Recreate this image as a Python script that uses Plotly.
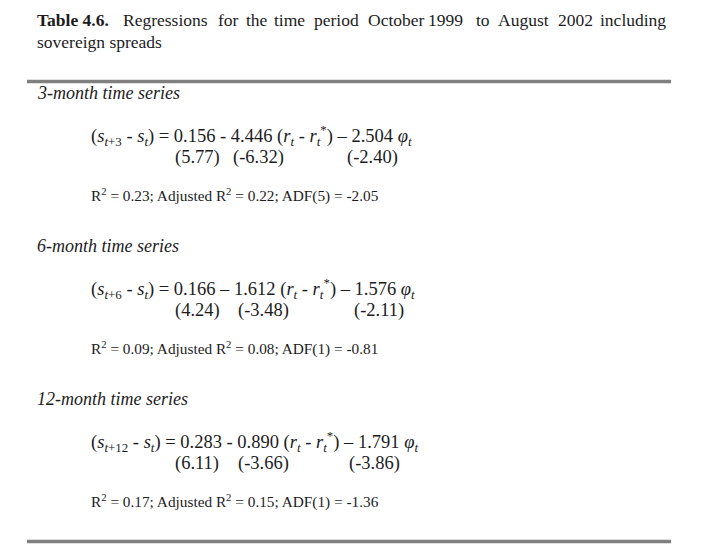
import plotly.graph_objects as go

# table values
horizons = [3, 6, 12]
const = ["0.156", "0.166", "0.283"]
beta = ["4.446", "1.612", "0.890"]
gamma = ["2.504", "1.576", "1.791"]
op_beta = ["-", "–", "-"]
t_const = ["(5.77)", "(4.24)", "(6.11)"]
t_beta = ["(-6.32)", "(-3.48)", "(-3.66)"]
t_gamma = ["(-2.40)", "(-2.11)", "(-3.86)"]
r2 = ["0.23", "0.09", "0.17"]
adj_r2 = ["0.22", "0.08", "0.15"]
adf_lag = [5, 1, 1]
adf = ["-2.05", "-0.81", "-1.36"]

# caption, first line is justified so words are placed one by one
title_words = ["<b>Table 4.6.</b>", "Regressions", "for", "the", "time", "period",
               "October", "1999", "to", "August", "2002", "including"]
title_x = [36, 122, 217, 245, 273, 313, 367, 427, 475, 497, 557, 599]
title_2 = "sovereign spreads"

FONT = "Liberation Serif"
INK = "#1c1c1c"
RULE = "#808080"

# page body has an 8px margin, so the figure starts at (8, 8)
OFF = 8
W, H = 704, 553

fig = go.Figure()

ann = []


def text(x, y, s, size, italic=False):
    if italic:
        s = "<i>" + s + "</i>"
    ann.append(dict(x=x, y=y, xref="x", yref="y", text=s, showarrow=False,
                    xanchor="left", yanchor="middle", xshift=-1,
                    font=dict(family=FONT, size=size, color=INK)))


for w, x in zip(title_words, title_x):
    text(x, 20, w, 17.5)
text(36, 42, title_2, 17.5)

# block layout
head_y = [93, 246, 399]
tx_const = [174, 174, 174]
tx_beta = [232, 237, 237]
tx_gamma = [346, 353, 348]

for i, h in enumerate(horizons):
    y0 = head_y[i]
    text(36, y0, f"{h}-month time series", 18, italic=True)
    eq = (f"(<i>s</i><sub><i>t</i>+{h}</sub> - <i>s<sub>t</sub></i>) = {const[i]} "
          f"{op_beta[i]} {beta[i]} (<i>r<sub>t</sub></i> - <i>r<sub>t</sub></i><sup>*</sup>)"
          f" – {gamma[i]} <i>φ<sub>t</sub></i>")
    text(90, y0 + 42, eq, 18.5)
    text(tx_const[i], y0 + 64, t_const[i], 18.5)
    text(tx_beta[i], y0 + 64, t_beta[i], 18.5)
    text(tx_gamma[i], y0 + 64, t_gamma[i], 18.5)
    stats = (f"R<sup>2</sup> = {r2[i]}; Adjusted R<sup>2</sup> = {adj_r2[i]}; "
             f"ADF({adf_lag[i]}) = {adf[i]}")
    text(90, y0 + 102, stats, 15.3)

for yy in [81.5, 541.5]:
    fig.add_shape(type="line", xref="x", yref="y", x0=27, x1=671, y0=yy, y1=yy,
                  line=dict(color=RULE, width=3.5))

fig.update_layout(
    width=W - OFF, height=H - OFF,
    margin=dict(l=0, r=0, t=0, b=0),
    paper_bgcolor="white", plot_bgcolor="white",
    annotations=ann,
    showlegend=False,
    xaxis=dict(range=[OFF, W], visible=False, fixedrange=True),
    yaxis=dict(range=[H, OFF], visible=False, fixedrange=True),
)

fig.write_html("out.html")
